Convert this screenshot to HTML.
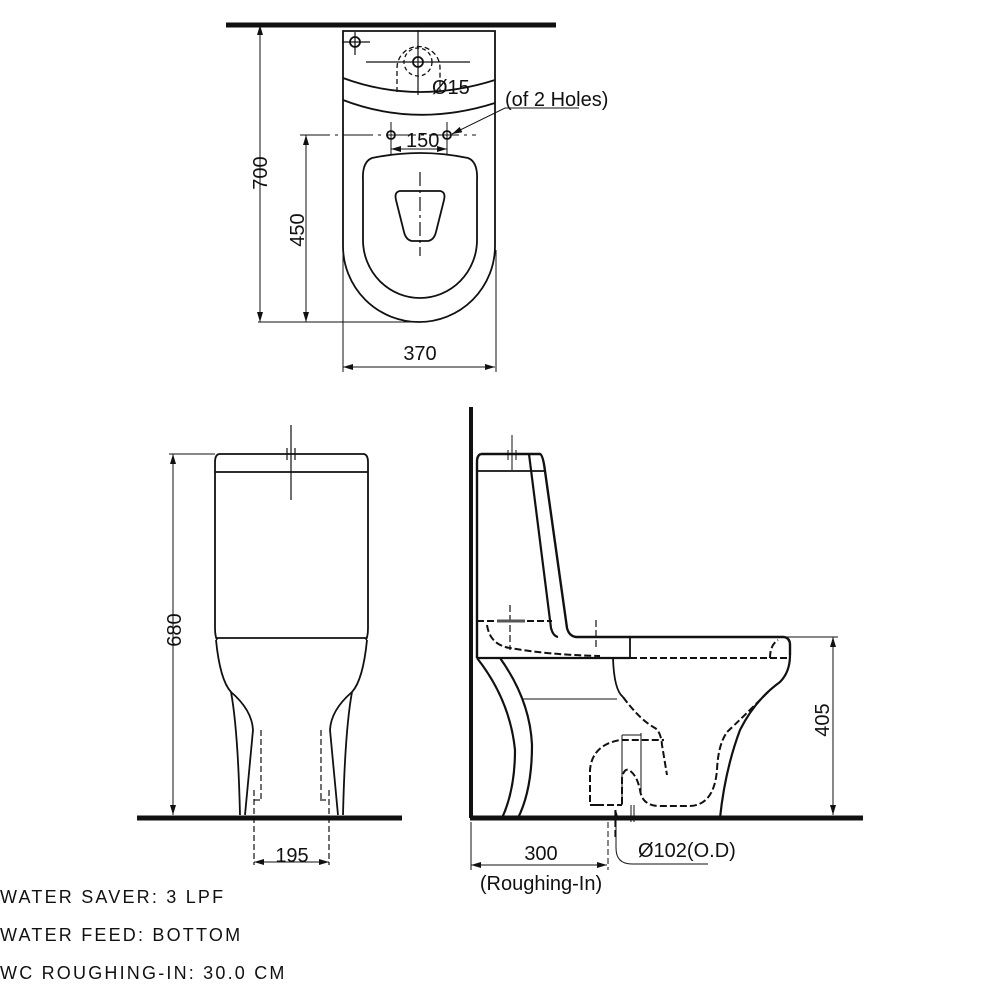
<!DOCTYPE html>
<html><head><meta charset="utf-8"><style>
html,body{margin:0;padding:0;background:#fff}
svg{display:block}
text{font-family:"Liberation Sans",sans-serif;fill:#111}
</style></head><body>
<svg width="1000" height="1000" viewBox="0 0 1000 1000" xmlns="http://www.w3.org/2000/svg">
<defs>
<marker id="a" viewBox="0 0 10 6" refX="10" refY="3" markerWidth="11" markerHeight="6" orient="auto-start-reverse" markerUnits="userSpaceOnUse"><path d="M0,0 L10,3 L0,6 z" fill="#111"/></marker>
</defs>
<g fill="none" stroke="#111" stroke-width="1.8">
<line x1="226" y1="25" x2="556" y2="25" stroke-width="5"/>
<path d="M343,31 L495,31 L495,246 A76,76 0 0 1 343,246 Z"/>
<path d="M343,78 Q416,105 495,80"/>
<path d="M343,100 Q416,128 495,103"/>
<path d="M372,158 Q420,148 468,158 Q478,162 477,180 L477,240 A57,58 0 0 1 363,240 L363,180 Q362,162 372,158 Z"/>
<path d="M400,191 L440,191 Q446,192 444,200 L436,232 Q434,240 428,241 L412,241 Q406,240 404,232 L396,200 Q394,192 400,191 Z"/>
<line x1="420" y1="172" x2="420" y2="256" stroke-dasharray="14,4,3,4" stroke-width="1.2"/>
<circle cx="418" cy="62" r="5"/>
<circle cx="418" cy="62" r="14" stroke-dasharray="4,3" stroke-width="1.3"/>
<path d="M397,92 L397,68 A21,21 0 0 1 440,68 L440,92" stroke-dasharray="5,3" stroke-width="1.3"/>
<line x1="366" y1="62" x2="470" y2="62" stroke-width="1.2"/>
<line x1="418" y1="30" x2="418" y2="95" stroke-width="1.2"/>
<circle cx="355" cy="42" r="5"/>
<line x1="342" y1="42" x2="370" y2="42" stroke-width="1.2"/>
<line x1="355" y1="32" x2="355" y2="55" stroke-width="1.2"/>
<circle cx="391" cy="135" r="4"/>
<circle cx="447" cy="135" r="4"/>
<line x1="300" y1="135" x2="476" y2="135" stroke-dasharray="30,5,3,5" stroke-width="1"/>
<line x1="391" y1="122" x2="391" y2="154" stroke-width="1"/>
<line x1="447" y1="122" x2="447" y2="154" stroke-width="1"/>
<line x1="391" y1="149" x2="447" y2="149" marker-start="url(#a)" marker-end="url(#a)" stroke-width="1"/>
<path d="M579,108 L505,108 L452,134" stroke-width="1" marker-end="url(#a)"/>
<line x1="260" y1="25" x2="260" y2="322" marker-start="url(#a)" marker-end="url(#a)" stroke-width="1"/>
<line x1="306" y1="135" x2="306" y2="322" marker-start="url(#a)" marker-end="url(#a)" stroke-width="1"/>
<line x1="258" y1="322" x2="420" y2="322" stroke-width="1"/>
<line x1="343" y1="250" x2="343" y2="372" stroke-width="1"/>
<line x1="496" y1="250" x2="496" y2="372" stroke-width="1"/>
<line x1="343" y1="367" x2="495" y2="367" marker-start="url(#a)" marker-end="url(#a)" stroke-width="1"/>

<line x1="137" y1="818" x2="402" y2="818" stroke-width="5"/>
<path d="M219,454 L364,454 Q368,455 368,462 L368,472 L368,628 Q368,636 366,640"/>
<path d="M219,454 Q215,455 215,462 L215,472 L215,628 Q215,636 217,640"/>
<line x1="215" y1="472" x2="368" y2="472"/>
<line x1="216" y1="638" x2="367" y2="638"/>
<path d="M216,640 Q220,680 231,692 Q238,730 240,815"/>
<path d="M231,692 Q252,710 253,730 L245,815"/>
<path d="M367,640 Q363,680 352,692 Q345,730 343,815"/>
<path d="M352,692 Q331,710 330,730 L338,815"/>
<line x1="291" y1="425" x2="291" y2="500" stroke-width="1.2"/>
<line x1="287" y1="448" x2="287" y2="460" stroke-width="1.2"/><line x1="295" y1="448" x2="295" y2="460" stroke-width="1.2"/>
<g stroke-dasharray="6,3" stroke-width="1.2">
<line x1="261" y1="730" x2="261" y2="800"/><line x1="321" y1="730" x2="321" y2="800"/>
<line x1="254" y1="800" x2="262" y2="800"/><line x1="320" y1="800" x2="329" y2="800"/>
<line x1="254" y1="790" x2="254" y2="865"/><line x1="329" y1="790" x2="329" y2="865"/>
</g>
<line x1="169" y1="454" x2="215" y2="454" stroke-width="1"/>
<line x1="173" y1="454" x2="173" y2="815" marker-start="url(#a)" marker-end="url(#a)" stroke-width="1"/>
<line x1="254" y1="862" x2="329" y2="862" marker-start="url(#a)" marker-end="url(#a)" stroke-width="1"/>

<line x1="471" y1="407" x2="471" y2="818" stroke-width="4"/>
<line x1="470" y1="818" x2="863" y2="818" stroke-width="5"/>
<path d="M481,454 L540,454 Q543,455 545,471 L567,628 Q569,636 576,637 L784,637 Q790,638 790,645 L790,655" stroke-width="2.4"/>
<path d="M481,454 Q477,455 477,462 L477,658" stroke-width="2.4"/>
<line x1="477" y1="471" x2="545" y2="471"/>
<path d="M529,454 L551,628 Q553,636 558,637" stroke-width="2.2"/>
<line x1="477" y1="658" x2="630" y2="658" stroke-width="2.2"/>
<line x1="630" y1="637" x2="630" y2="658"/>
<path d="M790,655 Q790,672 780,682 Q755,700 740,730 Q725,770 720,818" stroke-width="2.2"/>
<path d="M477,658 Q510,700 515,750 Q515,790 502,818" stroke-width="2.2"/>
<path d="M500,658 Q530,700 532,745 Q532,790 518,818" stroke-width="2.2"/>
<path d="M613,658 Q614,690 623,697"/>
<line x1="523" y1="699" x2="617" y2="699" stroke-width="1"/>
<g stroke-dasharray="7,3" stroke-width="2">
<line x1="477" y1="621" x2="552" y2="621"/>
<line x1="630" y1="658" x2="790" y2="658"/>
<path d="M487,625 Q490,645 510,648 Q550,655 600,656"/>
<path d="M770,658 Q770,645 778,640"/>
<path d="M623,697 Q640,720 655,728 Q661,732 662,745 L667,775"/>
<path d="M768,692 Q740,720 727,732 Q718,745 717,770 Q714,805 690,806 L660,806 Q642,806 640,790 Q637,775 629,770 Q624,768 622,778 L622,805"/>
<path d="M597,805 L590,805 L590,770 Q592,745 620,740 L664,740"/>
<line x1="597" y1="805" x2="622" y2="805"/>
<line x1="615" y1="810" x2="615" y2="840" stroke-width="1.2"/>
<line x1="510" y1="605" x2="510" y2="650" stroke-width="1.2"/>
<line x1="596" y1="620" x2="596" y2="650" stroke-width="1.2"/>
</g>
<line x1="622" y1="735" x2="622" y2="805" stroke-width="1"/>
<line x1="641" y1="733" x2="641" y2="795" stroke-width="1"/>
<line x1="622" y1="735" x2="641" y2="735" stroke-width="1"/>
<line x1="497" y1="621" x2="525" y2="621" stroke-width="3" stroke="#555"/>
<line x1="512" y1="435" x2="512" y2="470" stroke-width="1"/>
<line x1="508" y1="450" x2="508" y2="460" stroke-width="1"/><line x1="516" y1="450" x2="516" y2="460" stroke-width="1"/>
<line x1="631" y1="805" x2="631" y2="822" stroke-width="1"/><line x1="634" y1="805" x2="634" y2="822" stroke-width="1"/>
<line x1="786" y1="637" x2="838" y2="637" stroke-width="1"/>
<line x1="833" y1="637" x2="833" y2="815" marker-start="url(#a)" marker-end="url(#a)" stroke-width="1"/>
<line x1="471" y1="822" x2="471" y2="870" stroke-width="1"/>
<line x1="608" y1="822" x2="608" y2="870" stroke-width="1" stroke-dasharray="6,3"/>
<line x1="471" y1="865" x2="607" y2="865" marker-start="url(#a)" marker-end="url(#a)" stroke-width="1"/>
<path d="M708,864 L632,864 Q616,864 616,848 L616,810" stroke-width="1" marker-end="url(#a)"/>
</g>
<g font-size="20">
<text x="432" y="94">Ø15</text>
<text x="505" y="106">(of 2 Holes)</text>
<text x="406" y="147">150</text>
<text x="420" y="360" text-anchor="middle">370</text>
<text transform="translate(267,173) rotate(-90)" text-anchor="middle">700</text>
<text transform="translate(304,230) rotate(-90)" text-anchor="middle">450</text>
<text transform="translate(181,630) rotate(-90)" text-anchor="middle">680</text>
<text x="292" y="862" text-anchor="middle">195</text>
<text transform="translate(829,720) rotate(-90)" text-anchor="middle">405</text>
<text x="541" y="860" text-anchor="middle">300</text>
<text x="541" y="890" text-anchor="middle">(Roughing-In)</text>
<text x="638" y="857">Ø102(O.D)</text>
</g>
<g font-size="18" letter-spacing="2.2">
<text x="0" y="903">WATER SAVER: 3 LPF</text>
<text x="0" y="941">WATER FEED: BOTTOM</text>
<text x="0" y="979">WC ROUGHING-IN: 30.0 CM</text>
</g>
</svg>
</body></html>
